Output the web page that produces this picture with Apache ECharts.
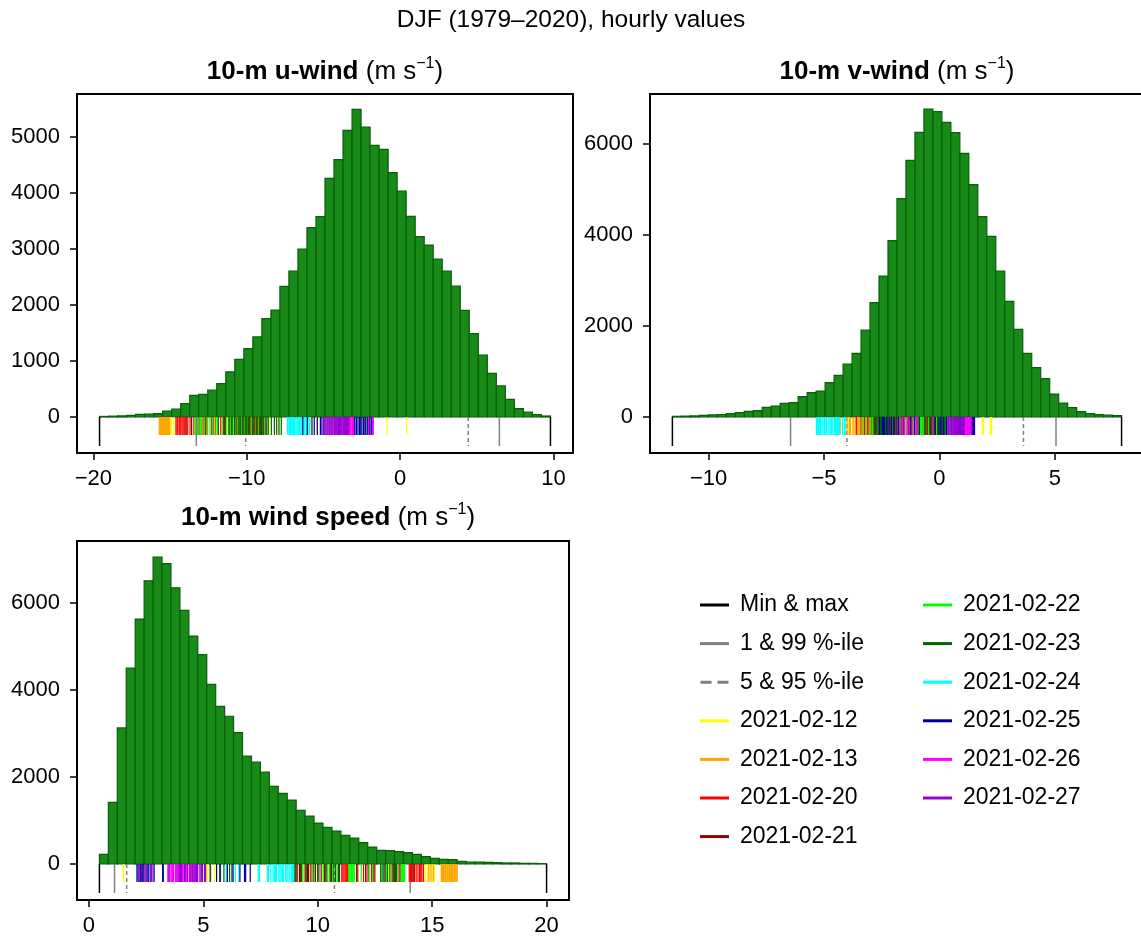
<!DOCTYPE html>
<html><head><meta charset="utf-8">
<script src="https://cdn.jsdelivr.net/npm/echarts/dist/echarts.min.js"></script>
<style>html,body{margin:0;padding:0;background:#fff;overflow:hidden}#c{width:1250px;height:938px}</style>
</head><body><div id="c"></div>
<script>
// ---------- data ----------
const dates = ['2021-02-12','2021-02-13','2021-02-20','2021-02-21','2021-02-22','2021-02-23','2021-02-24','2021-02-25','2021-02-26','2021-02-27'];
const dateColors = ['#ffff00','#ffa500','#ff0000','#8b0000','#00ff00','#006400','#00ffff','#00009a','#ff00ff','#9400d3'];

// histogram counts (50 bins between climatological min and max)
const uCounts = [10,15,20,30,45,50,60,107,143,238,387,405,482,595,804,1030,1220,1429,1756,1911,2333,2607,3000,3381,3577,4262,4595,5119,5494,5179,4851,4780,4363,4036,3583,3220,3071,2821,2607,2339,1905,1488,1107,780,554,315,149,89,42,18];
const vCounts = [15,20,25,35,45,55,75,95,125,140,210,240,300,315,447,535,571,755,916,1165,1400,1912,2513,3099,3875,4799,5641,6256,6769,6711,6476,6249,5795,5106,4403,3971,3209,2542,1927,1399,1084,842,505,308,205,117,73,51,44,29];
const sCounts = [221,1412,3122,4496,5618,6496,7038,6893,6336,5817,5229,4802,4122,3618,3389,3015,2473,2336,2107,1779,1618,1466,1229,1099,939,840,756,656,595,489,389,313,305,282,260,221,168,130,107,99,61,46,46,38,30,23,23,15,15,8];

// min, max, 1 %, 99 %, 5 %, 95 %
const uStats = [-19.6, 9.8, -13.29, 6.47, -10.07, 4.44];
const vStats = [-11.57, 7.89, -6.45, 5.05, -4.01, 3.64];
const sStats = [0.46, 20.0, 1.12, 14.04, 1.65, 10.73];

// hourly values of the selected days
const uDays = [
  [-15.0,-14.9,-14.75,-13.6,-12.9,-12.1,-11.3,-10.6,-10.1,-9.2,-8.95,-8.75,-8.55,-6.55,-6.15,-5.85,-5.45,-4.3,-3.15,-2.3,-1.85,-0.85,0.42,-7.9],
  [-15.71,-15.66,-15.62,-15.6,-15.55,-15.5,-15.47,-15.44,-15.39,-15.35,-15.33,-15.28,-15.25,-15.22,-15.18,-15.15,-15.12,-15.09,-15.06,-15.03,-15.52,-15.41,-15.3,-15.2],
  [-14.62,-14.55,-14.5,-14.41,-14.36,-14.3,-14.22,-14.15,-14.08,-14.02,-13.85,-13.7,-13.45,-13.1,-12.85,-12.6,-12.3,-12.05,-11.7,-11.45,-11.1,-10.75,-10.45,-10.2],
  [-13.95,-13.6,-13.2,-12.7,-12.2,-11.85,-11.5,-11.0,-10.55,-10.3,-10.05,-9.85,-9.8,-9.72,-9.66,-9.6,-9.52,-9.45,-9.38,-9.3,-9.22,-9.15,-9.08,-9.02],
  [-13.35,-13.2,-13.05,-12.95,-12.75,-12.55,-12.4,-12.25,-12.0,-11.9,-11.6,-11.35,-11.2,-11.05,-10.9,-10.7,-10.5,-10.35,-10.15,-9.95,-9.7,-9.4,-9.25,-13.0],
  [-11.4,-11.15,-10.95,-10.8,-10.65,-10.5,-10.4,-10.25,-10.1,-9.9,-9.6,-9.35,-9.1,-8.9,-8.7,-8.6,-8.4,-8.2,-8.05,-7.9,-7.75,-9.0,-8.8,-10.0],
  [-7.35,-7.3,-7.22,-7.15,-7.08,-7.0,-6.95,-6.88,-6.8,-6.72,-6.65,-6.6,-6.52,-6.45,-6.4,-6.3,-6.2,-6.1,-6.0,-5.9,-6.9,-7.1,-6.55,-6.25],
  [-6.35,-6.05,-5.75,-5.6,-5.4,-5.2,-5.1,-2.85,-2.75,-2.65,-2.6,-2.5,-2.4,-2.35,-2.25,-2.15,-2.1,-2.0,-1.9,-1.85,-4.6,-3.6,-3.0,-2.95],
  [-4.3,-4.15,-4.05,-3.95,-3.85,-3.7,-3.6,-3.5,-3.4,-3.3,-3.22,-3.15,-3.1,-4.45,-4.6,-1.8,-1.75,-3.05,-2.05,-3.8,-3.45,-3.25,-4.2,-3.55],
  [-5.0,-4.92,-4.85,-4.78,-4.72,-4.65,-4.58,-4.5,-4.45,-4.38,-4.3,-4.25,-4.18,-4.1,-4.02,-3.95,-3.88,-3.8,-3.72,-3.65,-3.58,-3.5,-3.42,-3.35]
];
const vDays = [
  [-3.95,-3.52,-3.1,-2.62,-2.02,-1.68,-1.22,-0.88,-0.58,1.88,2.24,-1.42,-0.25,-2.95,0.18,1.9,2.2,-1.8,-3.28,-0.7,-2.45,1.86,2.26,-1.08],
  [-4.3,-4.0,-3.9,-3.75,-3.62,-3.55,-3.45,-3.3,-3.05,-2.95,-2.85,-1.6,-1.4,-3.2,-3.7,-3.5,-2.65,-1.95,-1.25,-3.85,-3.35,-0.9,-2.75,-3.15],
  [-3.6,-3.4,-3.0,-2.82,-2.7,-2.55,-1.7,-1.5,-1.3,-1.1,-0.95,-0.75,-0.6,-0.45,-0.35,-0.2,-0.05,0.1,-2.2,-2.0,-1.85,-0.55,-0.15,-3.25],
  [-3.1,-2.92,-2.88,-2.6,-2.4,-2.3,-2.1,-1.95,-1.75,-1.55,-1.2,-0.85,-0.65,-0.5,-0.4,-0.3,-0.25,-0.1,0.05,0.15,-2.78,-1.0,-0.7,-0.38],
  [-3.35,-3.18,-2.98,-2.9,-2.5,-1.9,-1.45,-1.15,-0.82,-0.78,-0.72,-0.68,-0.3,-0.12,0.0,0.2,0.25,-2.35,-1.65,-1.05,-0.92,-2.25,0.12,-0.48],
  [-2.8,-2.77,-2.72,-2.65,-2.55,-2.45,-2.35,-2.25,-2.15,-2.05,-1.8,-0.62,-0.52,-0.42,-0.32,-0.22,-0.08,0.02,0.12,0.22,0.28,-2.5,-2.3,-2.1],
  [-5.33,-5.28,-5.2,-5.15,-5.08,-5.0,-4.95,-4.9,-4.82,-4.75,-4.7,-4.62,-4.55,-4.5,-4.45,-4.38,-4.33,-4.2,-4.12,-4.08,-5.25,-4.98,-4.67,-4.42],
  [-2.6,-2.48,-2.38,-2.28,-2.18,-2.08,-1.98,-1.88,-1.78,-1.62,-1.35,-1.08,-0.88,0.07,0.17,0.3,1.42,1.45,1.48,1.52,-0.02,-1.25,-0.18,-2.43],
  [-1.72,-1.52,-1.4,-1.32,-1.18,-1.02,-0.98,0.85,0.92,0.98,1.05,1.1,1.15,1.2,1.25,1.3,1.35,1.28,1.12,-1.6,-0.28,0.95,1.18,1.22],
  [0.36,0.42,0.47,0.52,0.58,0.62,0.67,0.72,0.78,0.82,0.87,0.91,0.95,1.0,1.04,0.55,0.65,0.75,0.85,1.08,1.4,0.4,0.7,0.88]
];
const sDays = [
  [1.5,1.52,5.15,5.2,5.35,5.5,9.1,9.4,9.6,9.75,10.2,10.45,11.25,12.0,13.2,14.7,14.8,14.9,15.0,15.1,15.5,15.65,15.8,13.1],
  [14.85,14.95,15.05,15.4,15.45,15.5,15.55,15.6,15.65,15.7,15.75,15.8,15.85,15.9,15.95,16.0,16.05,16.1,15.42,15.58,15.68,15.78,15.88,15.98],
  [11.05,11.1,11.15,11.2,11.25,11.3,11.35,11.75,12.1,12.35,14.0,14.05,14.15,14.22,14.3,14.38,14.45,14.55,14.62,12.0,12.5,13.55,14.1,14.5],
  [9.0,9.1,9.2,9.3,9.45,9.55,9.7,9.9,10.0,10.15,10.3,10.6,10.9,11.7,12.1,12.2,12.45,12.95,13.3,13.45,13.6,14.2,9.05,9.6],
  [8.95,9.35,9.85,10.25,10.5,10.65,10.85,11.35,11.42,11.48,11.55,11.6,11.9,12.25,12.8,13.0,13.5,13.65,13.75,13.8,11.38,11.52,13.7,12.4],
  [5.75,5.9,6.05,6.25,9.25,9.5,9.8,10.05,10.35,10.55,10.7,10.78,10.95,12.75,12.9,13.05,13.15,13.25,13.4,9.0,6.15,10.4,12.85,13.35],
  [6.0,6.4,7.4,7.45,7.8,7.85,7.95,8.05,8.15,8.2,8.3,8.4,8.45,8.5,8.6,8.65,8.7,8.78,8.85,8.9,8.95,6.55,8.1,8.35],
  [2.1,2.15,2.25,2.35,2.5,2.62,2.72,2.85,3.22,3.25,5.3,5.58,5.72,6.05,6.3,6.6,6.8,6.85,7.05,2.4,2.58,3.85,4.6,4.95],
  [3.45,3.55,3.62,3.7,3.78,3.85,3.92,4.0,4.08,4.15,4.22,4.3,4.38,4.45,4.52,4.6,3.5,3.65,3.82,3.95,4.1,4.25,4.4,4.75],
  [2.2,2.3,2.45,2.55,2.7,2.8,3.95,4.05,4.18,4.3,4.42,4.55,4.65,4.75,4.85,4.95,5.05,5.1,4.0,4.2,4.5,4.7,4.9,3.5]
];

// tick labels
const uXTicks = [-20,-10,0,10];
const vXTicks = [-10,-5,0,5];
const sXTicks = [0,5,10,15,20];
const uYTicks = [0,1000,2000,3000,4000,5000];
const vYTicks = [0,2000,4000,6000];
const sYTicks = [0,2000,4000,6000];

const mainTitle = 'DJF (1979\u20132020), hourly values';
const panelTitles = ['10-m u-wind','10-m v-wind','10-m wind speed'];
const unitText = 'm s';
const legendStats = ['Min & max','1 & 99 %-ile','5 & 95 %-ile'];

// ---------- chart ----------
const FONT = '"Liberation Sans", Arial, sans-serif';
const chart = echarts.init(document.getElementById('c'), null, {renderer:'canvas'});

// panel 2's frame runs past the right edge of the picture (cropped in the reference)
const panels = [
  {grid:{left:77, top:94, width:496, height:359}, x:[-21.07, 11.27], y:[-643, 5768], xt:uXTicks, yt:uYTicks, counts:uCounts, stats:uStats, days:uDays},
  {grid:{left:650, top:94, width:540, height:359}, x:[-12.54, 10.855], y:[-791, 7099], xt:vXTicks, yt:vYTicks, counts:vCounts, stats:vStats, days:vDays},
  {grid:{left:77, top:541, width:492, height:359}, x:[-0.52, 20.98], y:[-826, 7410], xt:sXTicks, yt:sYTicks, counts:sCounts, stats:sStats, days:sDays}
];

const fmt = v => (v < 0 ? '\u2212' + Math.abs(v) : String(v));

const grids = [], xAxes = [], yAxes = [], series = [];
panels.forEach((p, i) => {
  grids.push(Object.assign({show:true, borderColor:'#000', borderWidth:2, backgroundColor:'transparent'}, p.grid));
  xAxes.push({type:'value', gridIndex:i, min:p.x[0], max:p.x[1], position:'bottom',
    axisLine:{show:false, onZero:false}, splitLine:{show:false},
    axisTick:{show:true, length:7, lineStyle:{color:'#000', width:1.5}, customValues:p.xt},
    axisLabel:{customValues:p.xt, formatter:fmt, color:'#000', fontSize:22, fontFamily:FONT, margin:15, showMinLabel:true, showMaxLabel:true}});
  yAxes.push({type:'value', gridIndex:i, min:p.y[0], max:p.y[1], position:'left',
    axisLine:{show:false, onZero:false}, splitLine:{show:false},
    axisTick:{show:true, length:7, lineStyle:{color:'#000', width:1.5}, customValues:p.yt},
    axisLabel:{customValues:p.yt, formatter:fmt, color:'#000', fontSize:22, fontFamily:FONT, margin:17}});

  // histogram
  const n = p.counts.length, w = (p.stats[1] - p.stats[0]) / n;
  series.push({type:'custom', name:'hist', xAxisIndex:i, yAxisIndex:i, silent:true,
    data:p.counts.map((c, k) => [p.stats[0] + k * w, p.stats[0] + (k + 1) * w, c]),
    encode:{x:[0,1], y:2},
    renderItem:(params, api) => {
      const a = api.coord([api.value(0), api.value(2)]);
      const b = api.coord([api.value(1), 0]);
      return {type:'rect', shape:{x:a[0], y:a[1], width:b[0]-a[0], height:b[1]-a[1]},
        style:{fill:'#178a17', stroke:'#0a5e0a', lineWidth:1.2}};
    }});

  const rug = (name, vals, color, len, width, dash) => ({
    type:'custom', name, xAxisIndex:i, yAxisIndex:i, silent:true,
    itemStyle:{color},
    data:vals.map(v => [v, 0]), encode:{x:0, y:1},
    renderItem:(params, api) => {
      const q = api.coord([api.value(0), 0]);
      return {type:'line', shape:{x1:q[0], y1:q[1], x2:q[0], y2:q[1] + len},
        style:{stroke:color, lineWidth:width, lineDash:dash || null, opacity:1}};
    }});

  series.push(rug(legendStats[0], [p.stats[0], p.stats[1]], '#000', 29, 1.5));
  series.push(rug(legendStats[1], [p.stats[2], p.stats[3]], '#808080', 29, 1.5));
  series.push(rug(legendStats[2], [p.stats[4], p.stats[5]], '#808080', 29, 1.5, [4,3]));
  p.days.forEach((vals, d) => series.push(rug(dates[d], vals, dateColors[d], 18, 1.2)));
});

const legendItems = [
  {name:legendStats[0], icon:'rect', itemStyle:{color:'#000'}},
  {name:legendStats[1], icon:'rect', itemStyle:{color:'#808080'}},
  {name:legendStats[2], icon:'path://M0,0h11v3h-11z M17,0h11v3h-11z', itemStyle:{color:'#808080'}}
].concat(dates.map((d, k) => ({name:d, icon:'rect', itemStyle:{color:dateColors[k]}})));

const legendCommon = {orient:'vertical', itemWidth:29, itemHeight:3, itemGap:14.6, selectedMode:false,
  textStyle:{fontSize:23, fontFamily:FONT, color:'#000', lineHeight:24, padding:[0,0,0,6]}, padding:0};

const titleRich = {
  b:{fontSize:26, fontWeight:'bold', fontFamily:FONT, color:'#000', lineHeight:32},
  n:{fontSize:26, fontFamily:FONT, color:'#000', lineHeight:32},
  s:{fontSize:16, fontFamily:FONT, color:'#000', lineHeight:17, verticalAlign:'top'}
};
const subTitle = (k, x, y) => ({type:'text', x, y, silent:true,
  style:{text:'{b|' + panelTitles[k] + '}{n| (' + unitText + '}{s|\u22121}{n|)}', rich:titleRich, align:'center', verticalAlign:'middle'}});

chart.setOption({
  animation:false,
  backgroundColor:'#fff',
  grid:grids, xAxis:xAxes, yAxis:yAxes, series,
  legend:[
    Object.assign({left:700, top:593, data:legendItems.slice(0,7)}, legendCommon),
    Object.assign({left:923, top:593, data:legendItems.slice(7)}, legendCommon)
  ],
  graphic:[
    {type:'text', x:571, y:20, silent:true, style:{text:mainTitle, font:'24.5px ' + FONT, fill:'#000', align:'center', verticalAlign:'middle'}},
    subTitle(0, 325, 72),
    subTitle(1, 897, 72),
    subTitle(2, 328, 518)
  ]
});
</script>
</body></html>
